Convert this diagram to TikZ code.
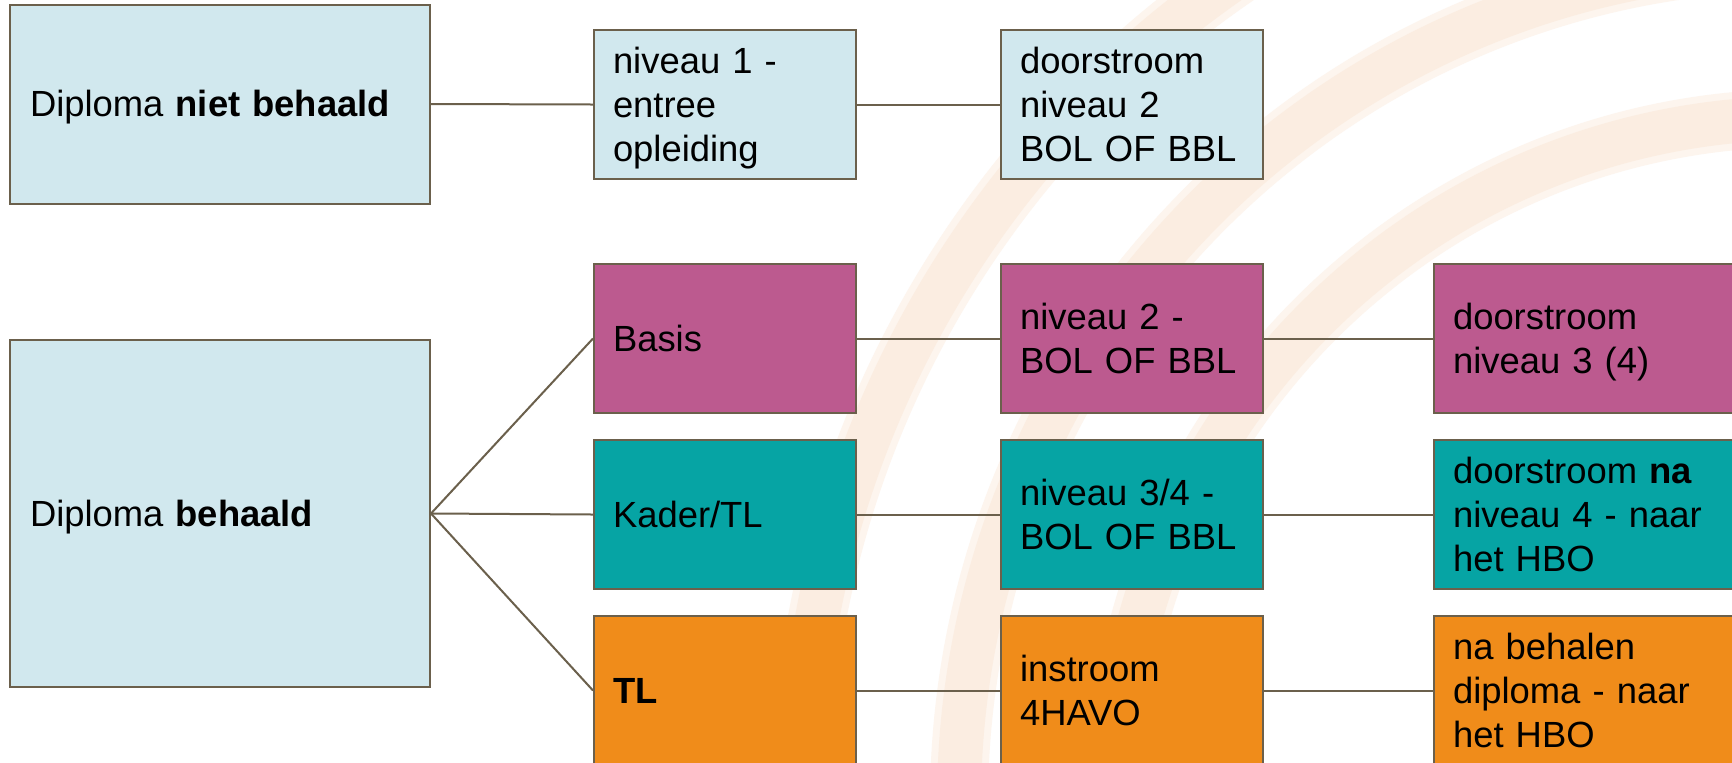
\documentclass[tikz,border=0pt]{standalone}
\usepackage{fontspec}
\setmainfont{Liberation Sans}
\definecolor{lblue}{HTML}{D1E8EE}
\definecolor{magent}{HTML}{BC5A8F}
\definecolor{tealc}{HTML}{06A4A4}
\definecolor{orng}{HTML}{F08C1A}
\definecolor{brd}{HTML}{6B604C}
\definecolor{peach}{HTML}{FBEDE1}
\definecolor{peachlt}{HTML}{FDF5EE}
\tikzset{
  box/.style={draw=brd, line width=1pt, rectangle, inner xsep=9.5pt, inner ysep=0pt,
    align=left, font=\fontsize{18.2pt}{22.1pt}\selectfont, text=black,
    execute at begin node={\rule{0pt}{16.6pt}},
    execute at end node={\rule[-3.8pt]{0pt}{3.8pt}}},
  colbox/.style={box, minimum width=131pt, minimum height=74.5pt, text width=112pt},
  bigbox/.style={box, minimum width=210pt, inner xsep=10pt, text width=190pt},
  endbox/.style={box, minimum width=163pt, minimum height=74.5pt, text width=144pt},
  conn/.style={draw=brd, line width=1pt},
  band/.style={draw=peach, line width=22pt},
  bandhalo/.style={draw=peachlt, line width=29pt}
}
\begin{document}
\begin{tikzpicture}[x=0.5pt,y=-0.5pt]
\useasboundingbox (0,0) rectangle (1732,762);
\clip (0,0) rectangle (1732,762);
\fill[white] (0,0) rectangle (1732,762);
% background arcs
\coordinate (ctr) at (1800,803);
\foreach \r in {1000,841,685}{
  \draw[bandhalo] (ctr) ++(180:\r) arc[start angle=180, end angle=270, radius=\r];
  \draw[band] (ctr) ++(180:\r) arc[start angle=180, end angle=270, radius=\r];
}
% boxes
\node[bigbox, fill=lblue, minimum height=99.5pt] (A) at (220,104) {Diploma \textbf{niet behaald}};
\node[colbox, fill=lblue] (B) at (725,104.5) {niveau 1 -\\entree\\opleiding};
\node[colbox, fill=lblue] (C) at (1132,104.5) {doorstroom\\niveau 2\\BOL OF BBL};
\node[bigbox, fill=lblue, minimum height=173.5pt] (D) at (220,513.5) {Diploma \textbf{behaald}};
\node[colbox, fill=magent] (basis) at (725,338.5) {Basis};
\node[colbox, fill=magent] (niv2) at (1132,338.5) {niveau 2 -\\BOL OF BBL};
\node[endbox, fill=magent] (door3) at (1597,338.5) {doorstroom\\niveau 3 (4)};
\node[colbox, fill=tealc] (kader) at (725,514.5) {Kader/TL};
\node[colbox, fill=tealc] (niv34) at (1132,514.5) {niveau 3/4 -\\BOL OF BBL};
\node[endbox, fill=tealc] (doorna) at (1597,514.5) {doorstroom \textbf{na}\\niveau 4 - naar\\het HBO};
\node[colbox, fill=orng] (tl) at (725,690.5) {\textbf{TL}};
\node[colbox, fill=orng] (inst) at (1132,690.5) {instroom\\4HAVO};
\node[endbox, fill=orng] (nabeh) at (1597,690.5) {na behalen\\diploma - naar\\het HBO};
% connectors
\draw[conn] (A.east) -- (B.west);
\draw[conn] (B.east) -- (C.west);
\draw[conn] (D.east) -- (basis.west);
\draw[conn] (D.east) -- (kader.west);
\draw[conn] (D.east) -- (tl.west);
\draw[conn] (basis.east) -- (niv2.west);
\draw[conn] (niv2.east) -- (door3.west);
\draw[conn] (kader.east) -- (niv34.west);
\draw[conn] (niv34.east) -- (doorna.west);
\draw[conn] (tl.east) -- (inst.west);
\draw[conn] (inst.east) -- (nabeh.west);
\end{tikzpicture}
\end{document}
